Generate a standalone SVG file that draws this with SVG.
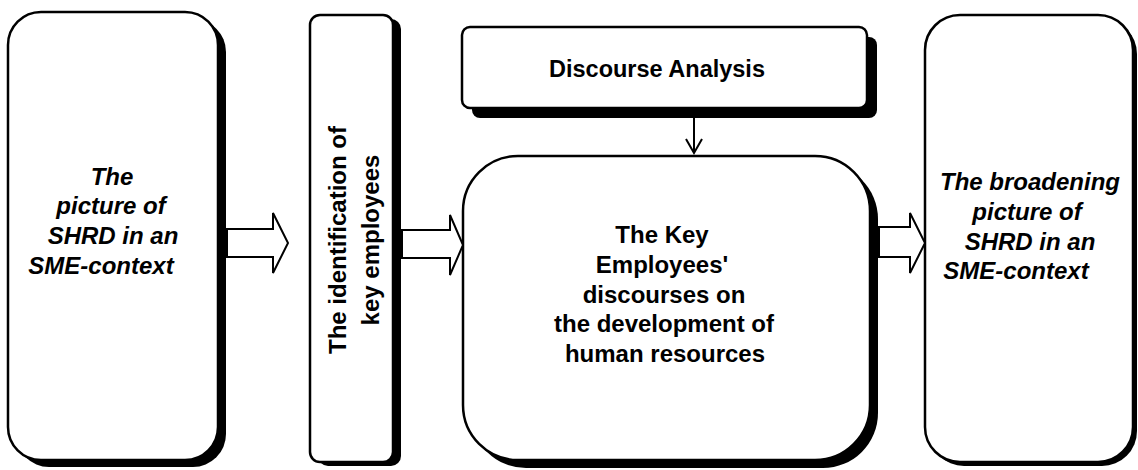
<svg xmlns="http://www.w3.org/2000/svg" width="1138" height="470" viewBox="0 0 1138 470">
<style>
.box{fill:#fff;stroke:#000;stroke-width:2.5}
.sh{fill:#000}
.t{font-family:"Liberation Sans",Arial,sans-serif;font-weight:bold;font-size:24px;fill:#000;text-anchor:middle}
.it{font-style:italic}
.arr{fill:#fff;stroke:#000;stroke-width:2;stroke-linejoin:miter}
.ln{fill:none;stroke:#000;stroke-width:2}
</style>
<rect width="1138" height="470" fill="#fff"/>
<g id="node-picture">
<rect class="sh" x="16" y="19" width="210" height="448" rx="33"/>
<rect class="box" x="8" y="12" width="210" height="448" rx="33"/>
<text class="t it" x="112" y="185">The</text>
<text class="t it" x="111" y="214">picture of</text>
<text class="t it" x="113" y="244">SHRD in an</text>
<text class="t it" x="101" y="274">SME-context</text>
</g>
<g id="node-identification">
<rect class="sh" x="318" y="19" width="83" height="447" rx="10"/>
<rect class="box" x="310" y="15" width="83" height="447" rx="10"/>
<g transform="translate(346,240) rotate(-90)">
<text class="t" x="0" y="0">The identification of</text>
<text class="t" x="0" y="33">key employees</text>
</g>
</g>
<g id="node-discourse-analysis">
<rect class="sh" x="472" y="37" width="405" height="81" rx="8"/>
<rect class="box" x="462" y="27" width="405" height="81" rx="8"/>
<text class="t" x="657" y="77" font-size="23.5" style="font-size:23.5px">Discourse Analysis</text>
</g>
<g id="node-key-employees">
<rect class="sh" x="471" y="164" width="407" height="304" rx="55"/>
<rect class="box" x="463" y="156" width="407" height="304" rx="55"/>
<text class="t" x="662" y="243">The Key</text>
<text class="t" x="662" y="273">Employees'</text>
<text class="t" x="664" y="303">discourses on</text>
<text class="t" x="664" y="332">the development of</text>
<text class="t" x="665" y="362">human resources</text>
</g>
<g id="node-broadening">
<rect class="sh" x="929" y="19" width="208" height="447" rx="35"/>
<rect class="box" x="925" y="15" width="208" height="447" rx="35"/>
<text class="t it" x="1030" y="190">The broadening</text>
<text class="t it" x="1027" y="220">picture of</text>
<text class="t it" x="1030" y="250">SHRD in an</text>
<text class="t it" x="1016" y="279">SME-context</text>
</g>
<g id="connectors">
<polygon class="arr" points="227,229 273,229 273,213 288,243 273,273 273,257 227,257"/>
<polygon class="arr" points="402,230 450,230 450,215 463,245 450,275 450,258 402,258"/>
<polygon class="arr" points="879,227 910,227 910,213 925,243 910,273 910,257 879,257"/>
<path class="ln" d="M694,118 V153"/>
<path class="ln" d="M686,139 L694,153 L702,139"/>
</g>
</svg>
